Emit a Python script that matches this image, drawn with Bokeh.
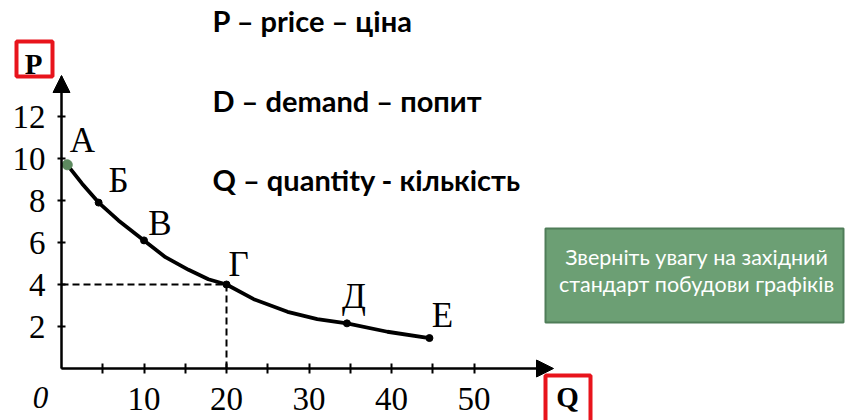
from bokeh.plotting import figure
from bokeh.models import Range1d, LinearAxis, FixedTicker, Arrow, NormalHead
from bokeh.core.properties import value
from bokeh.embed import file_html
from bokeh.resources import INLINE

# ---------------- data ----------------
curve_q = [0.7, 2.5, 4.5, 6.9, 10, 12.6, 15.4, 17.8, 20, 23.3, 27.4, 31, 34.6, 39.5, 44.6]
curve_p = [9.7, 8.8, 7.9, 7.05, 6.1, 5.3, 4.7, 4.25, 4.0, 3.3, 2.7, 2.35, 2.15, 1.75, 1.45]

point_labels = ["А", "Б", "В", "Г", "Д", "Е"]
point_q = [0.7, 4.5, 10, 20, 34.6, 44.6]
point_p = [9.7, 7.9, 6.1, 4.0, 2.15, 1.45]

x_ticks = [10, 20, 30, 40, 50]
x_minor_ticks = [5, 15, 25, 35, 45]
y_ticks = [2, 4, 6, 8, 10, 12]

legend_lines = ["P – price – ціна", "D – demand – попит", "Q – quantity - кількість"]
note_lines = ["Зверніть увагу на західний", "стандарт побудови графіків"]

x_axis_name = "Q"
y_axis_name = "P"
origin_label = "0"

# ---------------- layout helpers (picture pixels -> data) ----------------
SX, SY = 8.25, 21.0      # pixels per unit
X0, Y0 = 61.0, 368.0     # pixel position of the origin


def qx(px):
    return (px - X0) / SX


def py(pyy):
    return (Y0 - pyy) / SY


W, H = 848, 420
p = figure(width=W, height=H, output_backend="svg", toolbar_location=None,
           x_range=Range1d(qx(0), qx(W)), y_range=Range1d(py(H), py(0)),
           x_axis_location=None, y_axis_location=None, min_border=0)
p.outline_line_color = None
p.grid.visible = False
p.background_fill_color = "white"

SERIF = value("Liberation Serif")
SANS = value("Lato")

# axes at the origin
xaxis = LinearAxis(fixed_location=0, bounds=(0, 59),
                   ticker=FixedTicker(ticks=x_ticks, minor_ticks=x_minor_ticks))
yaxis = LinearAxis(fixed_location=0, bounds=(0, 13.9),
                   ticker=FixedTicker(ticks=y_ticks))
for ax in (xaxis, yaxis):
    ax.axis_line_width = 2
    ax.axis_line_color = "black"
    ax.major_tick_line_width = 2
    ax.minor_tick_line_width = 2
    ax.major_tick_line_color = "black"
    ax.minor_tick_line_color = "black"
    ax.major_label_text_font = "Liberation Serif"
    ax.major_label_text_font_size = "33px"
    ax.major_label_text_color = "black"
xaxis.major_tick_in = 5
xaxis.major_tick_out = 5
xaxis.minor_tick_in = 5
xaxis.minor_tick_out = 5
xaxis.major_label_standoff = 14
yaxis.major_tick_in = 4
yaxis.major_tick_out = 4
yaxis.minor_tick_line_color = None
yaxis.major_label_standoff = 12
p.add_layout(xaxis, "below")
p.add_layout(yaxis, "left")

# arrow heads
p.add_layout(Arrow(end=NormalHead(size=17, fill_color="black", line_color="black", line_width=1),
                   x_start=0, y_start=0, x_end=qx(553), y_end=0,
                   line_width=2, line_color="black"))
p.add_layout(Arrow(end=NormalHead(size=17, fill_color="black", line_color="black", line_width=1),
                   x_start=0, y_start=0, x_end=0, y_end=py(75),
                   line_width=2, line_color="black"))

# dashed guides to point Г
gq, gp = point_q[3], point_p[3]
p.line([0, gq], [gp, gp], line_dash="7 4", line_width=2, line_color="black")
p.line([gq, gq], [gp, 0], line_dash="7 4", line_width=2, line_color="black")

# demand curve
p.line(curve_q, curve_p, line_width=3.8, line_color="black", line_join="round", line_cap="round")
p.scatter(point_q[1:], point_p[1:], size=7, color="black")
p.scatter(point_q[:1], point_p[:1], size=10, color="#5d8a5f")

# point labels
lab_dx = [15, 20, 16, 12, 7, 13]
lab_dy = [-24, -22, -17, -20, -27, -23]
p.text(point_q, point_p, text=point_labels, x_offset=lab_dx, y_offset=lab_dy,
       text_align="center", text_baseline="middle",
       text_font=SERIF, text_font_size="35px", text_color="black")

# origin label
p.text([0], [0], text=[origin_label], x_offset=-21, y_offset=29,
       text_align="center", text_baseline="middle",
       text_font=SERIF, text_font_style="italic", text_font_size="31px", text_color="black")

# axis name boxes
p.quad(left=qx(16), right=qx(52), top=py(41), bottom=py(76),
       fill_color="white", line_color="#e8141c", line_width=4)
p.text([qx(33)], [py(63)], text=[y_axis_name], text_align="center", text_baseline="middle",
       text_font=SERIF, text_font_style="bold", text_font_size="29px", text_color="black")
p.quad(left=qx(545), right=qx(590), top=py(375), bottom=py(440),
       fill_color="white", line_color="#e8141c", line_width=4)
p.text([qx(567)], [py(396)], text=[x_axis_name], text_align="center", text_baseline="middle",
       text_font=SERIF, text_font_style="bold", text_font_size="29px", text_color="black")

# legend text at the top
p.text([qx(212)] * 3, [py(20), py(100), py(179)], text=legend_lines,
       text_align="left", text_baseline="middle",
       text_font=SANS, text_font_style="bold", text_font_size="29px", text_color="black")

# green note box
p.quad(left=qx(545), right=qx(843), top=py(228), bottom=py(322),
       fill_color="#6c9f74", line_color="#4f7d58", line_width=2)
p.text([qx(696)] * 2, [py(256), py(283)], text=note_lines,
       text_align="center", text_baseline="middle",
       text_font=SANS, text_font_size="21.5px", text_color="white")

open("out.html", "w").write(file_html(p, INLINE))
